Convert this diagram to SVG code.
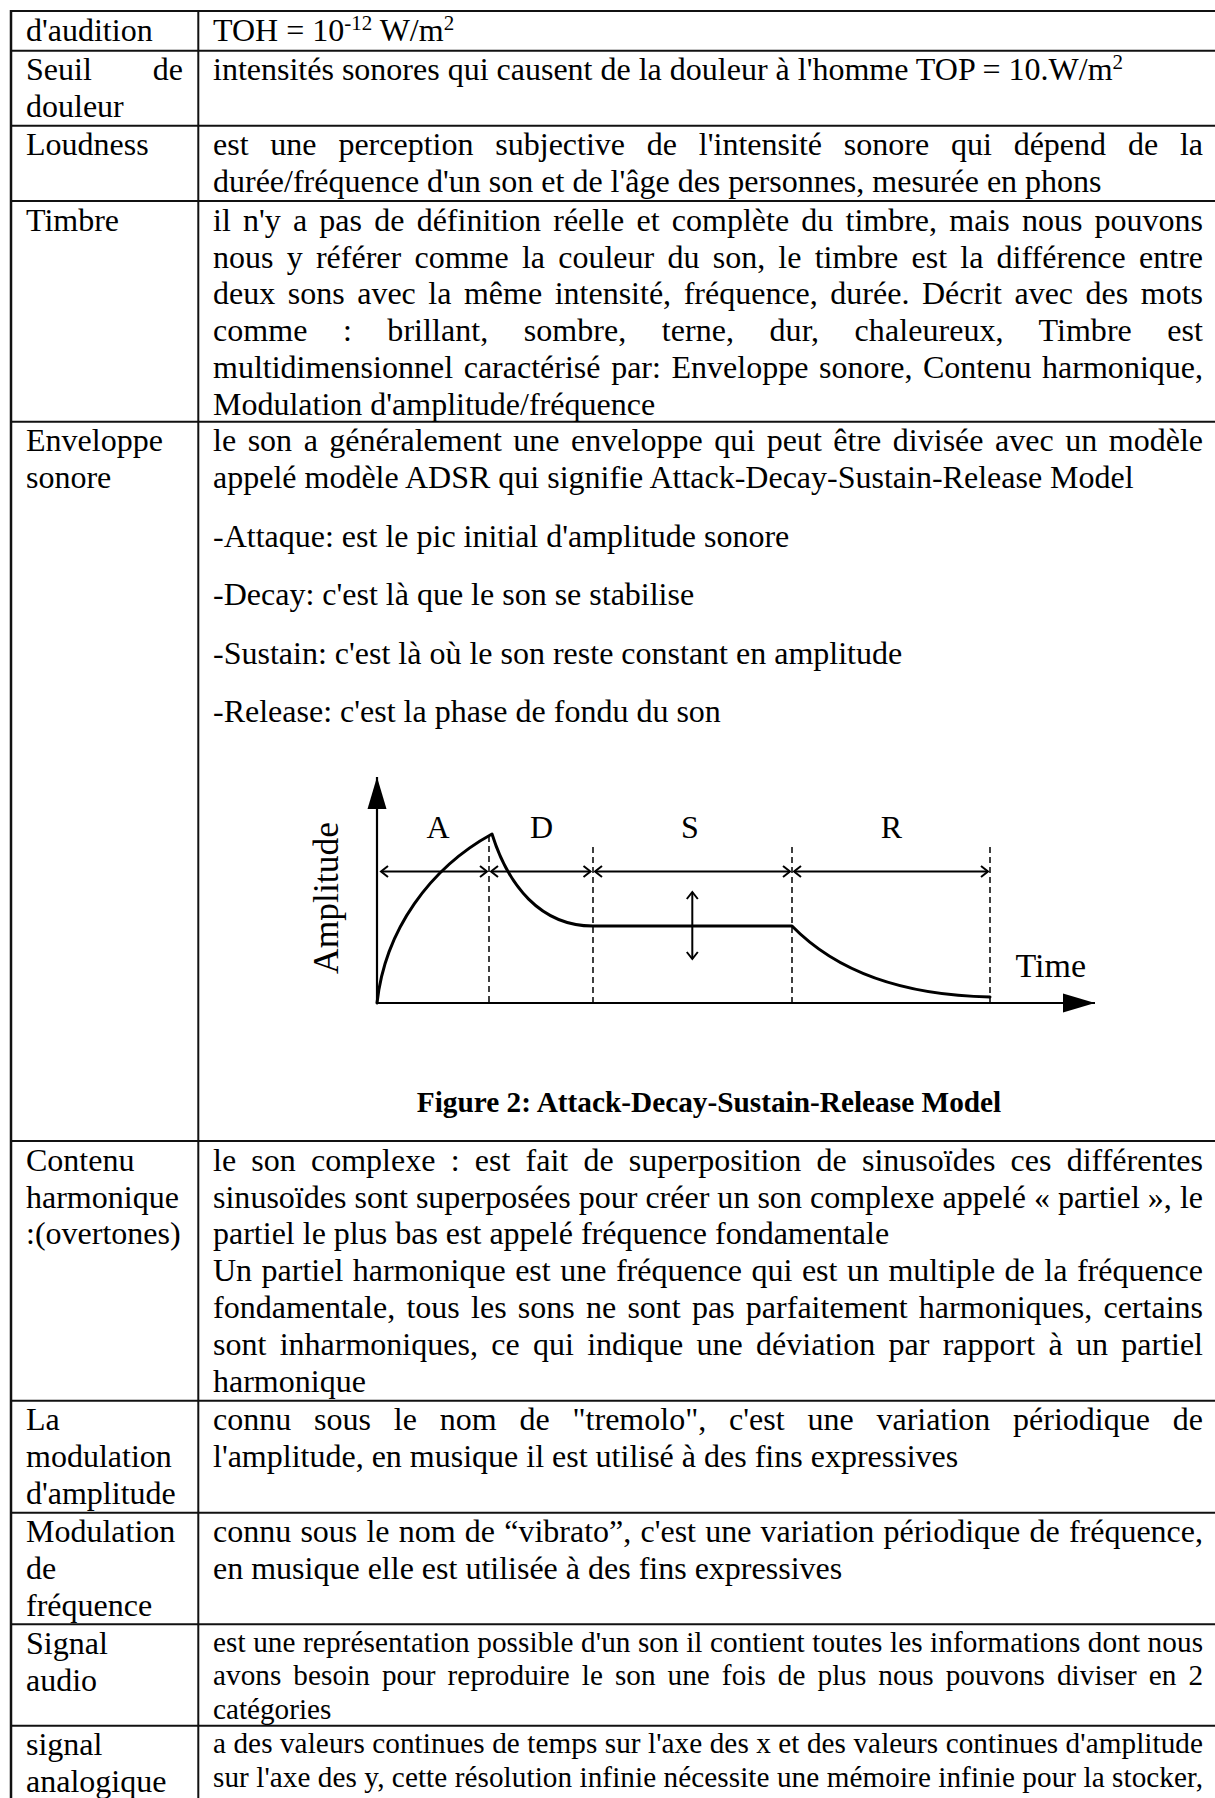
<svg xmlns="http://www.w3.org/2000/svg" width="1215" height="1798" viewBox="0 0 1215 1798">
  <style>
    .t { font-family: "Liberation Serif", "Times New Roman", serif; font-size: 32px; fill: #000; }
    .sm { font-size: 29.2px; }
    .cap { font-family: "Liberation Serif", "Times New Roman", serif; font-size: 29.3px; font-weight: bold; fill: #000; }
    .lbl { font-family: "Liberation Serif", "Times New Roman", serif; font-size: 32px; fill: #000; }
    .grid line { stroke: #111; stroke-width: 2; }
    .curve { fill: none; stroke: #000; stroke-width: 3; stroke-linecap: round; stroke-linejoin: round; }
    .axis { stroke: #000; stroke-width: 2.2; fill: none; }
    .dash { stroke: #000; stroke-width: 1.5; stroke-dasharray: 6 4; fill: none; }
    .dim { stroke: #000; stroke-width: 2; fill: none; }
  </style>
  <defs>
    <marker id="tri" markerUnits="userSpaceOnUse" markerWidth="40" markerHeight="24" viewBox="-34 -12 36 24" refX="0" refY="0" orient="auto">
      <path d="M -32 -9.5 L 0 0 L -32 9.5 Z" fill="#000"/>
    </marker>
    <marker id="chev" markerUnits="userSpaceOnUse" markerWidth="14" markerHeight="16" viewBox="-10 -8 12 16" refX="0" refY="0" orient="auto-start-reverse">
      <path d="M -7 -5.5 L 0 0 L -7 5.5" fill="none" stroke="#000" stroke-width="2"/>
    </marker>
  </defs>

  <rect width="1215" height="1798" fill="#fff"/>

  <!-- table rules -->
  <g id="grid" class="grid">
    <line x1="10" y1="11" x2="1215" y2="11"/>
    <line x1="10" y1="50.7" x2="1215" y2="50.7"/>
    <line x1="10" y1="125.7" x2="1215" y2="125.7"/>
    <line x1="10" y1="201" x2="1215" y2="201"/>
    <line x1="10" y1="421.7" x2="1215" y2="421.7"/>
    <line x1="10" y1="1141" x2="1215" y2="1141"/>
    <line x1="10" y1="1400.7" x2="1215" y2="1400.7"/>
    <line x1="10" y1="1512.7" x2="1215" y2="1512.7"/>
    <line x1="10" y1="1624.3" x2="1215" y2="1624.3"/>
    <line x1="10" y1="1725.7" x2="1215" y2="1725.7"/>
    <line x1="11" y1="10" x2="11" y2="1798" style="stroke-width:2.5"/>
    <line x1="198.3" y1="10" x2="198.3" y2="1798"/>
  </g>

  <g id="row-audition">
    <text class="t" x="26" y="40.7">d'audition</text>
    <text class="t" x="213" y="40.7">TOH = 10<tspan dy="-11" font-size="21">-12</tspan><tspan dy="11"> W/m</tspan><tspan dy="-11" font-size="21">2</tspan></text>
  </g>

  <g id="row-douleur">
    <text class="t" x="26" y="80.4">Seuil</text>
    <text class="t" x="183" y="80.4" text-anchor="end">de</text>
    <text class="t" x="26" y="117.2">douleur</text>
    <text class="t" x="213" y="80.4">intensités sonores qui causent de la douleur à l'homme TOP = 10.W/m<tspan dy="-11" font-size="21">2</tspan></text>
  </g>

  <g id="row-loudness">
    <text class="t" x="26" y="155.4">Loudness</text>
    <text class="t" x="213" y="155.4" textLength="990" lengthAdjust="spacing" style="word-spacing:13.8px">est une perception subjective de l'intensité sonore qui dépend de la</text>
    <text class="t" x="213" y="192.2">durée/fréquence d'un son et de l'âge des personnes, mesurée en phons</text>
  </g>

  <g id="row-timbre">
    <text class="t" x="26" y="230.7">Timbre</text>
    <text class="t" x="213" y="230.7" textLength="990" lengthAdjust="spacing" style="word-spacing:4.2px">il n'y a pas de définition réelle et complète du timbre, mais nous pouvons</text>
    <text class="t" x="213" y="267.5" textLength="990" lengthAdjust="spacing" style="word-spacing:5.2px">nous y référer comme la couleur du son, le timbre est la différence entre</text>
    <text class="t" x="213" y="304.3" textLength="990" lengthAdjust="spacing" style="word-spacing:4.5px">deux sons avec la même intensité, fréquence, durée. Décrit avec des mots</text>
    <text class="t" x="213" y="341.1" textLength="990" lengthAdjust="spacing" style="word-spacing:27.4px">comme : brillant, sombre, terne, dur, chaleureux, Timbre est</text>
    <text class="t" x="213" y="377.9" textLength="990" lengthAdjust="spacing" style="word-spacing:2.6px">multidimensionnel caractérisé par: Enveloppe sonore, Contenu harmonique,</text>
    <text class="t" x="213" y="414.7">Modulation d'amplitude/fréquence</text>
  </g>

  <g id="row-enveloppe">
    <text class="t" x="26" y="451.4">Enveloppe</text>
    <text class="t" x="26" y="488.2">sonore</text>
    <text class="t" x="213" y="451.4" textLength="990" lengthAdjust="spacing" style="word-spacing:3.5px">le son a généralement une enveloppe qui peut être divisée avec un modèle</text>
    <text class="t" x="213" y="488.2">appelé modèle ADSR qui signifie Attack-Decay-Sustain-Release Model</text>
    <text class="t" x="213" y="546.7">-Attaque: est le pic initial d'amplitude sonore</text>
    <text class="t" x="213" y="605.2">-Decay: c'est là que le son se stabilise</text>
    <text class="t" x="213" y="663.7">-Sustain: c'est là où le son reste constant en amplitude</text>
    <text class="t" x="213" y="722.2">-Release: c'est la phase de fondu du son</text>

    <!-- ADSR envelope figure -->
    <g id="adsr-chart">
      <line class="axis" x1="377" y1="1003" x2="377" y2="777" marker-end="url(#tri)"/>
      <line class="axis" x1="377" y1="1003" x2="1095" y2="1003" marker-end="url(#tri)"/>
      <line class="dash" x1="489" y1="836" x2="489" y2="1003"/>
      <line class="dash" x1="593" y1="847" x2="593" y2="1003"/>
      <line class="dash" x1="792" y1="847" x2="792" y2="1003"/>
      <line class="dash" x1="990" y1="847" x2="990" y2="1003"/>
      <path class="curve" d="M 377 1003 C 385 930 430 868 492 834 C 508 885 540 926 593 926 L 792 926 C 830 965 890 995 990 997"/>
      <line class="dim" x1="381" y1="871.5" x2="487" y2="871.5" marker-start="url(#chev)" marker-end="url(#chev)"/>
      <line class="dim" x1="491" y1="871.5" x2="590.5" y2="871.5" marker-start="url(#chev)" marker-end="url(#chev)"/>
      <line class="dim" x1="595" y1="871.5" x2="790" y2="871.5" marker-start="url(#chev)" marker-end="url(#chev)"/>
      <line class="dim" x1="794" y1="871.5" x2="988" y2="871.5" marker-start="url(#chev)" marker-end="url(#chev)"/>
      <line class="dim" x1="692.3" y1="892" x2="692.3" y2="959" marker-start="url(#chev)" marker-end="url(#chev)"/>
      <text class="lbl" x="438" y="838" text-anchor="middle">A</text>
      <text class="lbl" x="541.5" y="838" text-anchor="middle">D</text>
      <text class="lbl" x="690" y="838" text-anchor="middle">S</text>
      <text class="lbl" x="891.5" y="838" text-anchor="middle">R</text>
      <text class="lbl" x="1015.5" y="977" style="font-size:34px">Time</text>
      <text class="lbl" x="0" y="0" text-anchor="middle" style="font-size:35.5px" transform="translate(338 898) rotate(-90)">Amplitude</text>
    </g>
    <text class="cap" x="709" y="1111.7" text-anchor="middle">Figure 2: Attack-Decay-Sustain-Release Model</text>
  </g>

  <g id="row-harmonique">
    <text class="t" x="26" y="1170.7">Contenu</text>
    <text class="t" x="26" y="1207.5">harmonique</text>
    <text class="t" x="26" y="1244.3">:(overtones)</text>
    <text class="t" x="213" y="1170.7" textLength="990" lengthAdjust="spacing" style="word-spacing:7.2px">le son complexe : est fait de superposition de sinusoïdes ces différentes</text>
    <text class="t" x="213" y="1207.5" textLength="990" lengthAdjust="spacing">sinusoïdes sont superposées pour créer un son complexe appelé « partiel », le</text>
    <text class="t" x="213" y="1244.3">partiel le plus bas est appelé fréquence fondamentale</text>
    <text class="t" x="213" y="1281.1" textLength="990" lengthAdjust="spacing" style="word-spacing:1.5px">Un partiel harmonique est une fréquence qui est un multiple de la fréquence</text>
    <text class="t" x="213" y="1317.9" textLength="990" lengthAdjust="spacing" style="word-spacing:3.2px">fondamentale, tous les sons ne sont pas parfaitement harmoniques, certains</text>
    <text class="t" x="213" y="1354.7" textLength="990" lengthAdjust="spacing" style="word-spacing:5.3px">sont inharmoniques, ce qui indique une déviation par rapport à un partiel</text>
    <text class="t" x="213" y="1391.5">harmonique</text>
  </g>

  <g id="row-mod-amplitude">
    <text class="t" x="26" y="1430.4">La</text>
    <text class="t" x="26" y="1467.2">modulation</text>
    <text class="t" x="26" y="1504">d'amplitude</text>
    <text class="t" x="213" y="1430.4" textLength="990" lengthAdjust="spacing" style="word-spacing:14.8px">connu sous le nom de "tremolo", c'est une variation périodique de</text>
    <text class="t" x="213" y="1467.2">l'amplitude, en musique il est utilisé à des fins expressives</text>
  </g>

  <g id="row-mod-frequence">
    <text class="t" x="26" y="1542.4">Modulation</text>
    <text class="t" x="26" y="1579.2">de</text>
    <text class="t" x="26" y="1616">fréquence</text>
    <text class="t" x="213" y="1542.4" textLength="990" lengthAdjust="spacing" style="word-spacing:1.2px">connu sous le nom de “vibrato”, c'est une variation périodique de fréquence,</text>
    <text class="t" x="213" y="1579.2">en musique elle est utilisée à des fins expressives</text>
  </g>

  <g id="row-signal-audio">
    <text class="t" x="26" y="1654">Signal</text>
    <text class="t" x="26" y="1690.8">audio</text>
    <text class="t sm" x="213" y="1651.5" textLength="990" lengthAdjust="spacing">est une représentation possible d'un son il contient toutes les informations dont nous</text>
    <text class="t sm" x="213" y="1685.2" textLength="990" lengthAdjust="spacing" style="word-spacing:4.6px">avons besoin pour reproduire le son une fois de plus nous pouvons diviser en 2</text>
    <text class="t sm" x="213" y="1718.9">catégories</text>
  </g>

  <g id="row-signal-analogique">
    <text class="t" x="26" y="1755.4">signal</text>
    <text class="t" x="26" y="1792.2">analogique</text>
    <text class="t sm" x="213" y="1752.9" textLength="990" lengthAdjust="spacing">a des valeurs continues de temps sur l'axe des x et des valeurs continues d'amplitude</text>
    <text class="t sm" x="213" y="1786.6" textLength="990" lengthAdjust="spacing">sur l'axe des y, cette résolution infinie nécessite une mémoire infinie pour la stocker,</text>
  </g>
</svg>
